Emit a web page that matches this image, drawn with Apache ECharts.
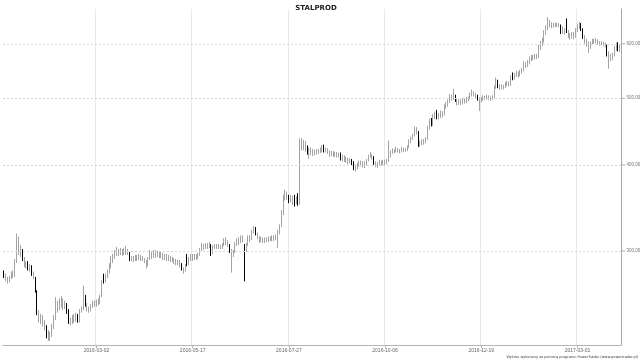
<!DOCTYPE html>
<html>
<head>
<meta charset="utf-8">
<script src="https://cdn.jsdelivr.net/npm/echarts@6/dist/echarts.min.js"></script>
<style>
  html, body { margin: 0; padding: 0; background: #fff; }
  #chart { width: 640px; height: 360px; }
</style>
</head>
<body>
<div id="chart"></div>
<script>
// Daily candles: [open, close, low, high]
const candles = [
  [280,276,274,281],[273,276,271,278],[271,273,269,275],[271,275,270,276],[275,278,273,280],
  [276,278,274,281],[276,290,275,292],[290,305,288,318],[300,305,296,315],[297,302,294,306],
  [298,292,290,302],[286,292,284,294],[286,288,283,290],[289,283,281,290],[283,284,280,287],
  [284,278,276,286],[275,278,273,280],[274,263,261,275],[262,245,242,263],[238,245,236,246],
  [238,240,235,243],[236,240,233,242],[233,236,230,238],[233,228,224,234],[224,228,222,230],
  [224,227,222,229],[227,232,225,235],[232,240,231,242],[240,246,238,257],[246,252,244,254],
  [250,252,246,256],[250,253,248,258],[249,253,246,256],[249,251,247,254],[251,246,243,252],
  [246,237,235,247],[236,237,234,240],[236,240,235,242],[238,240,236,243],[238,241,237,244],
  [242,237,236,243],[237,246,236,247],[246,247,244,249],[247,262,246,267],[258,251,249,259],
  [247,251,245,252],[246,247,244,249],[246,249,245,251],[249,252,248,254],[251,252,249,254],
  [251,253,249,255],[252,253,250,256],[252,258,251,259],[258,270,257,272],[276,271,269,278],
  [271,276,270,278],[276,280,274,282],[280,286,278,288],[285,292,283,295],[292,294,288,297],
  [294,298,292,301],[298,300,295,304],[297,300,295,302],[297,300,296,303],[298,300,295,302],
  [298,301,296,303],[299,301,296,305],[299,300,296,302],[298,292,290,299],[292,293,290,295],
  [291,293,289,295],[291,294,290,296],[292,294,290,296],[292,294,291,297],[293,294,290,296],
  [292,293,290,295],[290,292,288,293],[286,290,283,291],[286,292,285,294],[292,298,291,301],
  [295,298,292,300],[295,299,293,301],[296,299,293,301],[296,298,294,300],[297,298,293,300],
  [296,297,293,299],[294,296,291,298],[294,295,291,297],[293,295,290,297],[293,294,290,296],
  [291,294,289,295],[291,292,289,294],[290,292,287,293],[289,290,286,292],[289,290,286,291],
  [287,290,284,291],[287,283,281,288],[281,283,278,284],[281,285,280,287],[296,287,285,297],
  [287,292,286,294],[292,294,290,297],[293,294,290,297],[293,295,291,297],[294,295,291,297],
  [294,296,292,298],[296,301,295,303],[301,305,300,308],[304,305,301,307],[304,306,302,308],
  [305,306,302,308],[305,307,303,309],[306,298,295,307],[298,304,297,306],[304,305,302,307],
  [304,305,302,307],[304,305,302,307],[304,305,302,306],[304,306,302,308],[306,311,305,313],
  [309,311,306,314],[306,309,304,311],[306,300,298,307],[296,300,279,302],[296,299,294,301],
  [299,307,298,309],[307,311,305,313],[309,311,306,314],[309,314,308,316],[312,314,309,316],
  [305,300,271,307],[300,306,299,308],[306,314,305,316],[312,314,309,316],[312,320,311,322],
  [320,324,318,326],[324,318,316,325],[314,318,312,319],[311,314,308,315],[311,313,309,315],
  [310,313,308,314],[310,312,308,314],[311,312,309,314],[311,313,309,315],[312,313,310,315],
  [312,314,310,316],[312,314,310,316],[312,315,311,317],[313,318,303,322],[318,326,317,328],
  [326,340,325,344],[340,358,338,362],[358,364,355,368],[360,364,356,366],[360,356,352,362],
  [356,359,353,362],[355,359,350,361],[360,352,348,362],[352,358,351,360],[362,351,349,364],
  [351,434,350,437],[428,432,420,438],[428,431,420,435],[425,431,418,433],[425,418,414,427],
  [418,421,408,424],[416,421,413,424],[416,419,412,422],[417,419,413,421],[417,420,414,422],
  [418,420,415,422],[418,422,416,424],[422,425,418,428],[426,419,417,428],[419,422,417,424],
  [418,422,415,423],[415,418,411,420],[415,417,412,419],[414,417,411,419],[414,416,411,418],
  [413,416,410,418],[413,415,410,417],[415,410,406,417],[410,412,405,414],[407,412,404,413],
  [407,409,403,411],[405,409,401,410],[405,407,402,409],[407,403,399,408],[403,398,393,405],
  [396,398,391,401],[396,401,394,403],[401,404,398,406],[401,404,398,406],[401,403,397,405],
  [400,403,396,405],[400,406,399,408],[406,412,405,414],[412,414,410,418],[410,414,407,415],
  [410,403,400,412],[400,403,397,405],[400,402,396,404],[402,404,399,407],[402,404,399,406],
  [402,405,400,407],[403,405,400,407],[403,406,401,408],[406,414,404,434],[414,417,410,420],
  [417,420,415,423],[419,420,416,422],[419,421,417,425],[420,421,417,423],[419,420,416,422],
  [419,422,417,425],[421,422,418,424],[420,421,418,423],[420,424,419,427],[424,432,423,436],
  [432,437,430,440],[437,441,435,444],[441,450,440,455],[447,450,443,454],[447,432,425,448],
  [428,432,425,434],[428,433,427,436],[432,433,428,436],[432,436,430,439],[436,452,435,456],
  [452,462,450,467],[466,458,455,468],[458,470,456,474],[470,474,466,478],[478,470,466,481],
  [470,472,466,476],[472,476,468,480],[474,476,469,479],[474,486,472,490],[486,490,483,494],
  [490,494,486,498],[494,503,492,507],[500,503,496,506],[500,504,497,516],[504,498,494,506],
  [492,498,488,500],[492,495,489,498],[493,495,489,498],[493,497,490,500],[495,497,491,500],
  [495,498,492,502],[498,500,495,503],[500,506,498,510],[506,510,503,515],[507,510,503,512],
  [504,507,500,509],[504,500,496,506],[496,500,479,502],[496,499,493,502],[499,502,496,505],
  [500,502,497,504],[500,503,498,506],[501,503,497,505],[499,501,496,503],[499,502,497,505],
  [502,518,500,522],[518,530,516,536],[530,522,517,532],[518,522,514,524],[518,521,515,524],
  [519,521,515,523],[519,524,517,528],[524,526,521,530],[523,526,520,529],[523,535,521,540],
  [542,534,531,545],[534,540,532,544],[540,544,537,548],[541,544,536,547],[541,546,538,550],
  [546,549,543,553],[549,560,547,566],[558,560,553,564],[558,563,555,568],[563,570,560,575],
  [570,574,566,578],[572,574,568,578],[572,576,569,580],[574,576,570,580],[574,592,572,598],
  [592,600,588,606],[600,605,596,612],[605,622,602,628],[622,630,618,638],[630,645,628,656],
  [640,645,634,650],[636,640,632,645],[636,640,633,644],[638,640,634,643],[638,640,635,644],
  [637,640,634,643],[637,625,620,640],[625,630,620,636],[624,630,619,632],[650,624,622,653],
  [618,624,612,628],[615,618,608,622],[615,620,610,624],[614,620,609,624],[614,628,612,632],
  [628,636,624,640],[636,640,630,645],[640,630,626,643],[630,615,610,632],[605,615,600,618],
  [602,605,594,610],[596,602,582,604],[596,600,590,604],[600,606,598,610],[604,606,600,610],
  [604,607,601,612],[603,607,598,609],[600,603,596,605],[600,602,597,605],[599,602,595,604],
  [597,599,593,602],[597,582,575,598],[575,582,552,585],[572,575,566,580],[572,578,568,582],
  [578,590,575,596],[590,598,586,602],[600,588,585,603],[588,596,584,600]
];

// x axis: which candle carries a date label
const tickIndex = [50, 102, 154, 206, 258, 310];
const tickLabels = ['2016-03-02', '2016-05-17', '2016-07-27', '2016-10-06', '2016-12-19', '2017-03-01'];

// y axis levels (log scale)
const priceLevels = [300, 400, 500, 600];
const yMin = 219;
const yMax = 674;

const categories = candles.map((_, i) => {
  const k = tickIndex.indexOf(i);
  return k >= 0 ? tickLabels[k] : '';
});
const isTick = (i) => tickIndex.includes(i);

const chart = echarts.init(document.getElementById('chart'), null, { renderer: 'canvas' });
chart.setOption({
  animation: false,
  backgroundColor: '#fff',
  textStyle: { fontFamily: 'Liberation Sans' },
  title: {
    text: 'STALPROD',
    left: 311, top: 0, textAlign: 'center',
    textStyle: { fontSize: 7, fontWeight: 'bold', color: '#222', fontFamily: 'DejaVu Sans' }
  },
  grid: { left: 3, right: 19, top: 9, bottom: 15 },
  xAxis: {
    type: 'category',
    data: categories,
    boundaryGap: true,
    axisLine: { show: true, lineStyle: { color: '#b4b4b4', width: 1 } },
    axisTick: { show: true, interval: isTick, alignWithLabel: true, length: 3, lineStyle: { color: '#b4b4b4' } },
    axisLabel: { show: true, interval: isTick, fontSize: 5, color: '#666', margin: 3, fontFamily: 'Liberation Sans' },
    splitLine: { show: true, interval: isTick, lineStyle: { color: '#e8e8e8', width: 1 } }
  },
  yAxis: {
    type: 'log',
    position: 'right',
    min: yMin, max: yMax,
    axisLine: { show: true, lineStyle: { color: '#a8a8a8', width: 1 } },
    axisTick: { show: false },
    axisLabel: { show: false },
    splitLine: { show: false }
  },
  series: [{
    type: 'candlestick',
    data: candles,
    barWidth: 1,
    itemStyle: {
      color: '#c8c8c8', borderColor: '#a4a4a4',
      color0: '#000', borderColor0: '#000',
      borderWidth: 1
    },
    markLine: {
      silent: true,
      symbol: 'none',
      lineStyle: { type: [2, 2], color: '#d6d6d6', width: 1 },
      label: {
        position: 'end', distance: 1, fontSize: 4.5, color: '#777', fontFamily: 'Liberation Sans',
        formatter: (p) => '{t|}{v|' + p.value.toFixed(2).replace('.', ',') + '}',
        rich: {
          t: { width: 3, height: 1, backgroundColor: '#a8a8a8' },
          v: { fontSize: 4.5, color: '#777', fontFamily: 'Liberation Sans', padding: [0, 0, 0, 1.5] }
        }
      },
      data: priceLevels.map((v) => ({ yAxis: v }))
    }
  }],
  graphic: [{
    type: 'text', right: 2, bottom: 1,
    style: { text: 'Wykres wykonany za pomocą programu PowerTrader (www.powertrader.pl)', fontSize: 3.5, fill: '#444', fontFamily: 'DejaVu Sans' }
  }]
});
</script>
</body>
</html>
